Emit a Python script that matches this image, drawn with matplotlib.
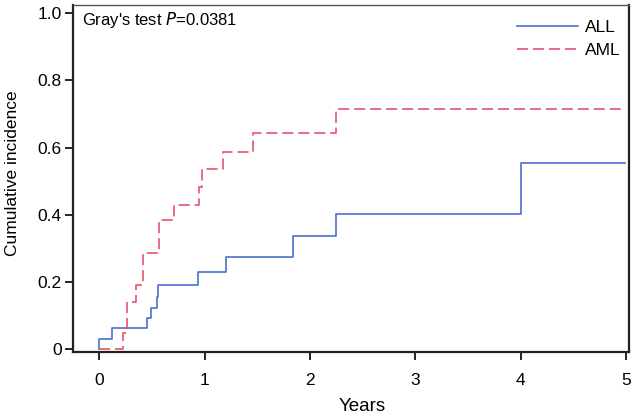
import matplotlib.pyplot as plt

plt.rcParams['font.family'] = ['Liberation Sans', 'DejaVu Sans']
plt.rcParams['lines.scale_dashes'] = False

# step times (years) and cumulative incidence after each step
all_times = [0, 0, 0.118, 0.45, 0.49, 0.55, 0.56, 0.937, 1.207, 1.84, 2.25, 4.0, 4.99]
all_vals = [0, 0.03, 0.062, 0.092, 0.124, 0.156, 0.19, 0.229, 0.275, 0.336, 0.402, 0.554, 0.554]

aml_times = [0, 0.226, 0.264, 0.35, 0.413, 0.569, 0.705, 0.95, 0.975, 1.175, 1.46, 2.245, 4.99]
aml_vals = [0, 0.047, 0.141, 0.19, 0.287, 0.384, 0.43, 0.483, 0.535, 0.588, 0.642, 0.714, 0.714]

x_ticks = [0, 1, 2, 3, 4, 5]
y_ticks = [0, 0.2, 0.4, 0.6, 0.8, 1.0]
y_labels = ['0', '0.2', '0.4', '0.6', '0.8', '1.0']

fig = plt.figure(figsize=(6.37, 4.18), dpi=100)
ax = fig.add_axes([0.1146, 0.158, 0.8729, 0.831])

ax.step(all_times, all_vals, where='post', color='#4a6fcf', lw=1.2, label='ALL')
ax.step(aml_times, aml_vals, where='post', color='#e8526c', lw=1.2,
        dashes=(8, 3.5), label='AML')

ax.set_xlim(-0.25, 5.03)
ax.set_ylim(-0.008, 1.025)
ax.set_xticks(x_ticks)
ax.set_yticks(y_ticks)
ax.set_yticklabels(y_labels)
ax.tick_params(labelsize=12.5, length=6, width=1.2, direction='out')
ax.tick_params(axis='x', pad=9)
ax.tick_params(axis='y', pad=2)

for side in ['left', 'bottom', 'right']:
    ax.spines[side].set_linewidth(1.6)
    ax.spines[side].set_color('#222222')
ax.spines['top'].set_linewidth(1.0)
ax.spines['top'].set_color('#555555')

# x label is centred on the data range, not the frame
ax.set_xlabel('Years', fontsize=13.5)
ax.xaxis.set_label_coords((2.5 + 0.25) / 5.28, -0.132)
ax.set_ylabel('Cumulative incidence', fontsize=12.5)
ax.yaxis.set_label_coords(-0.095, 0.515)

ax.text(0.016, 0.985, "Gray's test $\\it{P}$=0.0381", transform=ax.transAxes,
        fontsize=12, va='top', ha='left')

ax.legend(loc='upper right', bbox_to_anchor=(1.0, 0.982), frameon=False,
          fontsize=12.5, handlelength=3.5, borderaxespad=0.1,
          labelspacing=0.45, handletextpad=0.4)

fig.savefig('out.png', dpi=100)
